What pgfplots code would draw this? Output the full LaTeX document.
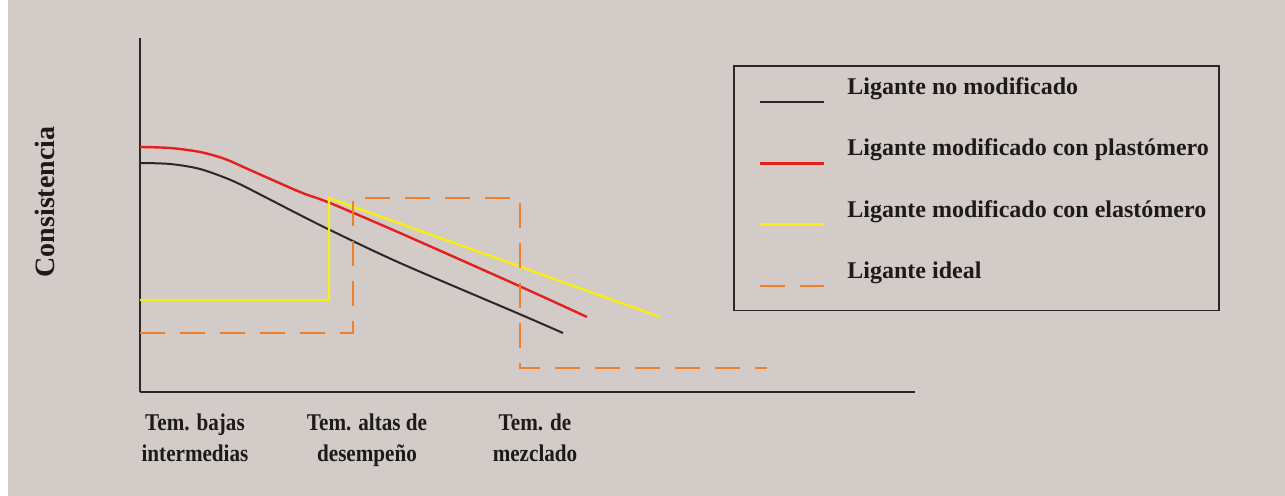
\documentclass[border=0pt]{standalone}
\usepackage{fontspec}
\setmainfont{Liberation Serif}
\newfontfamily\condfont[FakeStretch=0.88]{Liberation Serif}
\usepackage{pgfplots}
\pgfplotsset{compat=1.18}

\definecolor{fondo}{RGB}{211,203,200}
\definecolor{tinta}{RGB}{28,26,26}
\definecolor{rojo}{RGB}{228,32,28}
\definecolor{amarillo}{RGB}{248,238,20}
\definecolor{naranja}{RGB}{240,128,40}
\definecolor{negro}{RGB}{40,40,40}

\begin{document}
\begin{tikzpicture}
% fondo de la lamina (1 px = 0.5 pt)
\useasboundingbox (-70pt,-52pt) rectangle (572.5pt,196pt);
\fill[fondo] (-70pt,-52pt) rectangle (572.5pt,196pt);
\fill[white] (-70pt,-52pt) rectangle (-66pt,196pt);

\begin{axis}[
    width=387.5pt, height=177pt,
    scale only axis,
    xmin=140, xmax=915,
    ymin=104, ymax=458,
    clip=false,
    axis lines=left,
    axis line style={-, line width=1pt, color=negro},
    xtick={195,367,535},
    xticklabels={{Tem. bajas\\intermedias},{Tem. altas de\\desempeño},{Tem. de\\mezclado}},
    xticklabel style={font=\condfont\bfseries\fontsize{12}{15.5}\selectfont, align=center,
        anchor=north, yshift=-7.5pt, text=tinta},
    ytick=\empty,
    major tick length=0pt,
    ylabel={Consistencia},
    every axis y label/.style={at={(axis description cs:-0.1226,0.5367)}, rotate=90,
        anchor=center, font=\bfseries\fontsize{14}{16}\selectfont, text=tinta},
    legend image code/.code={
        \path (0pt,0pt) (0pt,-12pt);
        \draw[#1] (7.5pt,-6.8pt) -- (39.5pt,-6.8pt);},
    legend cell align=left,
    legend style={at={(axis description cs:0.7652,0.9237)}, anchor=north west,
        draw=negro, line width=0.8pt, fill=none,
        inner xsep=5pt, inner ysep=6.5pt,
        row sep=13pt, column sep=11pt,
        font=\bfseries\fontsize{12}{14}\selectfont, text=tinta,
        nodes={inner sep=0pt, text height=8pt, text depth=2pt}},
]

% ligante no modificado
\addplot[negro, line width=1pt, smooth, tension=0.5] coordinates {
    (140,333) (170,332) (200,327) (233,315) (267,298) (300,281)
    (330,266) (400,233) (517,183) (563,163)
};
\addlegendentry{Ligante no modificado}

% modificado con plastomero
\addplot[rojo, line width=1.2pt, smooth, tension=0.5] coordinates {
    (140,349) (170,348) (200,344) (225,337) (250,326) (300,304)
    (330,293) (400,263) (517,211) (587,179)
};
\addlegendentry{Ligante modificado con plastómero}

% modificado con elastomero
\addplot[amarillo, line width=1.2pt] coordinates {
    (140,196) (329,196) (329,298) (660,179)
};
\addlegendentry{Ligante modificado con elastómero}

% ligante ideal
\addplot[naranja, line width=1.3pt, dash pattern=on 12.5pt off 7.5pt] coordinates {
    (140,163) (353,163) (353,298) (520,298) (520,128) (767,128)
};
\addlegendentry{Ligante ideal}

\end{axis}
\end{tikzpicture}
\end{document}
